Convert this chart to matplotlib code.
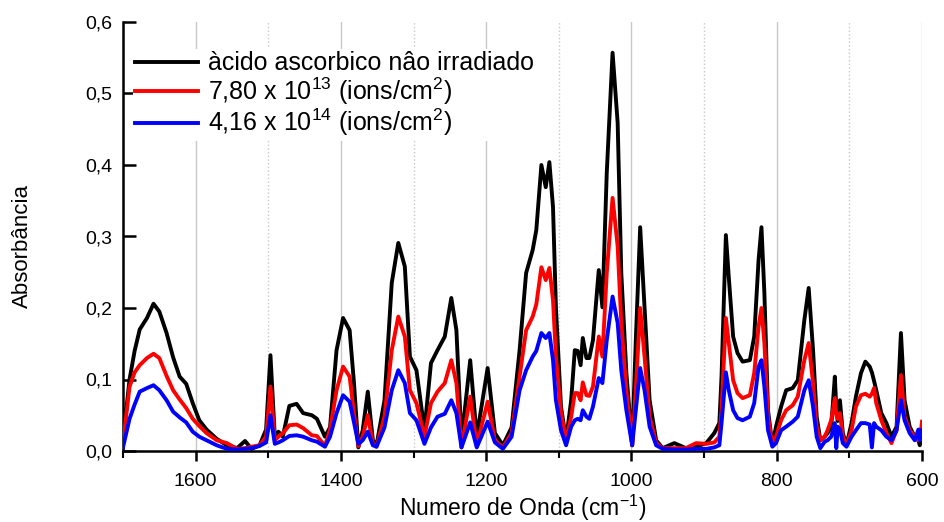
import matplotlib
matplotlib.use("Agg")
import matplotlib.pyplot as plt
from matplotlib.ticker import FixedLocator, FuncFormatter
import warnings
warnings.filterwarnings("ignore")

# wavenumbers (cm-1)
wavenumber = [1700, 1691, 1684, 1677, 1667, 1658, 1650, 1640, 1631, 1622, 1613, 1604, 1595, 1585,
              1571, 1557, 1543, 1532, 1523, 1512, 1503, 1497, 1491, 1486, 1480, 1471, 1461, 1452,
              1440, 1433, 1422, 1415, 1406, 1397, 1388, 1382, 1376, 1370, 1363, 1356, 1351, 1340,
              1330, 1321, 1312, 1305, 1296, 1285, 1276, 1267, 1257, 1248, 1241, 1234, 1222, 1213,
              1198, 1188, 1177, 1165, 1154, 1145, 1136, 1131, 1124, 1118, 1113, 1108, 1104, 1097,
              1090, 1083, 1078, 1074, 1070, 1067, 1062, 1058, 1053, 1045, 1040, 1034, 1026, 1019,
              1014, 1007, 999, 994, 988, 982, 975, 966, 957, 941, 925, 911, 897, 886, 879, 876,
              870, 866, 860, 854, 847, 837, 831, 825, 821, 817, 812, 806, 801, 794, 787, 778,
              771, 762, 756, 750, 745, 740, 734, 730, 725, 720, 718, 716, 713, 709, 704, 697,
              691, 684, 678, 672, 669, 666, 663, 656, 649, 642, 635, 629, 624, 617, 610, 605,
              603, 600]

abs_nao_irradiado = [0.015, 0.100, 0.140, 0.170, 0.186, 0.206, 0.195, 0.165, 0.131, 0.104, 0.094, 0.067, 0.043, 0.030,
                     0.017, 0.008, 0.004, 0.014, 0.003, 0.008, 0.030, 0.134, 0.020, 0.027, 0.020, 0.063, 0.066, 0.053,
                     0.050, 0.045, 0.020, 0.033, 0.141, 0.186, 0.169, 0.095, 0.005, 0.029, 0.083, 0.015, 0.008, 0.071,
                     0.235, 0.291, 0.258, 0.132, 0.113, 0.029, 0.123, 0.141, 0.160, 0.214, 0.169, 0.015, 0.127, 0.020,
                     0.116, 0.025, 0.008, 0.033, 0.141, 0.249, 0.281, 0.309, 0.400, 0.369, 0.404, 0.341, 0.201, 0.062,
                     0.015, 0.071, 0.141, 0.140, 0.120, 0.158, 0.130, 0.130, 0.155, 0.253, 0.201, 0.389, 0.557, 0.459,
                     0.249, 0.109, 0.008, 0.155, 0.313, 0.200, 0.071, 0.015, 0.004, 0.011, 0.004, 0.006, 0.011, 0.025, 0.039, 0.104,
                     0.302, 0.243, 0.160, 0.137, 0.125, 0.127, 0.160, 0.267, 0.313, 0.221, 0.057, 0.008, 0.034, 0.062, 0.085, 0.088,
                     0.099, 0.183, 0.228, 0.141, 0.048, 0.015, 0.020, 0.025, 0.034, 0.104, 0.060, 0.042, 0.071, 0.025, 0.008, 0.039,
                     0.076, 0.109, 0.125, 0.118, 0.110, 0.098, 0.085, 0.053, 0.039, 0.020, 0.034, 0.165, 0.071, 0.034, 0.020, 0.015,
                     0.008, 0.034]

abs_7_80e13 = [0.010, 0.090, 0.110, 0.120, 0.130, 0.136, 0.130, 0.105, 0.085, 0.072, 0.060, 0.045, 0.035, 0.025,
               0.015, 0.011, 0.003, 0.004, 0.006, 0.008, 0.020, 0.090, 0.015, 0.020, 0.025, 0.036, 0.037, 0.032,
               0.022, 0.021, 0.007, 0.030, 0.085, 0.118, 0.104, 0.053, 0.007, 0.020, 0.050, 0.010, 0.006, 0.048,
               0.141, 0.188, 0.160, 0.085, 0.067, 0.020, 0.067, 0.083, 0.095, 0.127, 0.095, 0.005, 0.076, 0.008,
               0.069, 0.015, 0.005, 0.025, 0.104, 0.169, 0.188, 0.205, 0.257, 0.239, 0.256, 0.211, 0.132, 0.053,
               0.015, 0.048, 0.081, 0.081, 0.071, 0.096, 0.078, 0.077, 0.090, 0.160, 0.132, 0.249, 0.354, 0.286,
               0.179, 0.085, 0.008, 0.085, 0.200, 0.132, 0.048, 0.011, 0.004, 0.004, 0.004, 0.011, 0.010, 0.012, 0.020, 0.057,
               0.186, 0.151, 0.099, 0.081, 0.074, 0.078, 0.109, 0.174, 0.200, 0.151, 0.048, 0.008, 0.020, 0.043, 0.057, 0.064,
               0.076, 0.127, 0.151, 0.095, 0.034, 0.015, 0.020, 0.029, 0.043, 0.074, 0.050, 0.045, 0.053, 0.020, 0.008, 0.029,
               0.062, 0.078, 0.080, 0.076, 0.080, 0.088, 0.067, 0.043, 0.025, 0.011, 0.029, 0.106, 0.048, 0.029, 0.020, 0.015,
               0.015, 0.041]

abs_4_16e14 = [0.005, 0.045, 0.065, 0.083, 0.088, 0.092, 0.085, 0.071, 0.055, 0.047, 0.040, 0.027, 0.020, 0.015,
               0.008, 0.003, 0.002, 0.003, 0.004, 0.007, 0.012, 0.050, 0.010, 0.012, 0.015, 0.021, 0.022, 0.020,
               0.015, 0.013, 0.006, 0.020, 0.053, 0.078, 0.069, 0.040, 0.010, 0.015, 0.027, 0.008, 0.006, 0.033,
               0.085, 0.113, 0.095, 0.053, 0.043, 0.010, 0.033, 0.048, 0.052, 0.071, 0.053, 0.005, 0.040, 0.005,
               0.041, 0.012, 0.003, 0.020, 0.085, 0.113, 0.132, 0.140, 0.165, 0.158, 0.165, 0.127, 0.071, 0.029,
               0.008, 0.034, 0.043, 0.045, 0.043, 0.057, 0.048, 0.045, 0.062, 0.102, 0.095, 0.155, 0.216, 0.179,
               0.113, 0.057, 0.008, 0.057, 0.116, 0.085, 0.034, 0.008, 0.003, 0.002, 0.002, 0.003, 0.003, 0.005, 0.008, 0.039,
               0.110, 0.085, 0.057, 0.046, 0.043, 0.048, 0.067, 0.118, 0.127, 0.090, 0.029, 0.006, 0.011, 0.029, 0.034, 0.041,
               0.048, 0.085, 0.099, 0.062, 0.020, 0.004, 0.013, 0.015, 0.020, 0.039, 0.004, 0.034, 0.030, 0.011, 0.006, 0.020,
               0.029, 0.039, 0.039, 0.037, 0.005, 0.039, 0.034, 0.029, 0.020, 0.015, 0.029, 0.071, 0.043, 0.025, 0.015, 0.030,
               0.015, 0.029]

labels = ["àcido ascorbico nâo irradiado",
          r"7,80 x 10$^{13}$ (ions/cm$^{2}$)",
          r"4,16 x 10$^{14}$ (ions/cm$^{2}$)"]
colors = ["black", "#ff0000", "#0000ff"]

x_major = [1600, 1400, 1200, 1000, 800, 600]
x_minor = [1700, 1500, 1300, 1100, 900, 700]
y_ticks = [0.0, 0.1, 0.2, 0.3, 0.4, 0.5, 0.6]

plt.rcParams['font.family'] = ['Liberation Sans', 'DejaVu Sans']
plt.rcParams['mathtext.fontset'] = 'custom'
plt.rcParams['mathtext.rm'] = 'Liberation Sans'
plt.rcParams['mathtext.it'] = 'Liberation Sans'

fig = plt.figure(figsize=(9.44, 5.22), dpi=100)
ax = fig.add_axes([123/944, (522-451)/522, 799/944, (451-22)/522])

for series, lab, col in zip([abs_nao_irradiado, abs_7_80e13, abs_4_16e14], labels, colors):
    ax.plot(wavenumber, series, color=col, lw=2.8, label=lab, solid_joinstyle='round', zorder=3)

ax.set_xlim(1700, 600)
ax.set_ylim(0, 0.6)

ax.xaxis.set_major_locator(FixedLocator(x_major))
ax.xaxis.set_minor_locator(FixedLocator(x_minor))
ax.yaxis.set_major_locator(FixedLocator(y_ticks))
ax.yaxis.set_major_formatter(FuncFormatter(lambda v, p: f"{v:.1f}".replace(".", ",")))
ax.xaxis.set_major_formatter(FuncFormatter(lambda v, p: f"{int(v)}"))

ax.grid(True, axis='x', which='major', color='#c8c8c8', lw=1.0, zorder=0)
ax.grid(True, axis='x', which='minor', color='#c8c8c8', lw=1.0, ls=':', zorder=0)

for s in ['top', 'right']:
    ax.spines[s].set_visible(False)
for s in ['left', 'bottom']:
    ax.spines[s].set_linewidth(1.8)

ax.tick_params(axis='y', direction='in', length=9, width=1.8, labelsize=14, pad=8)
ax.tick_params(axis='x', which='major', direction='out', length=7, width=1.8, labelsize=14, pad=9)
ax.tick_params(axis='x', which='minor', direction='out', length=5, width=1.5)

ax.set_xlabel(r"Numero de Onda (cm$^{-1}$)", fontsize=16.5)
ax.xaxis.set_label_coords(0.5, (451-508)/429, transform=ax.transAxes)
ax.xaxis.label.set_verticalalignment('center')
ax.set_ylabel("Absorbância", fontsize=16)
ax.yaxis.set_label_coords((22-123)/799, (451-246)/429, transform=ax.transAxes)
ax.yaxis.label.set_verticalalignment('center')

leg = ax.legend(loc='upper left', bbox_to_anchor=(0.012, (451-49)/429), frameon=True, fontsize=18,
                handlelength=2.5, handletextpad=0.4, labelspacing=0.0, borderaxespad=0.0,
                borderpad=0.1)
leg.get_frame().set_facecolor('white')
leg.get_frame().set_edgecolor('none')
leg.get_frame().set_alpha(1.0)
for h in leg.get_lines():
    h.set_linewidth(2.8)

fig.savefig("out.png", dpi=100)
